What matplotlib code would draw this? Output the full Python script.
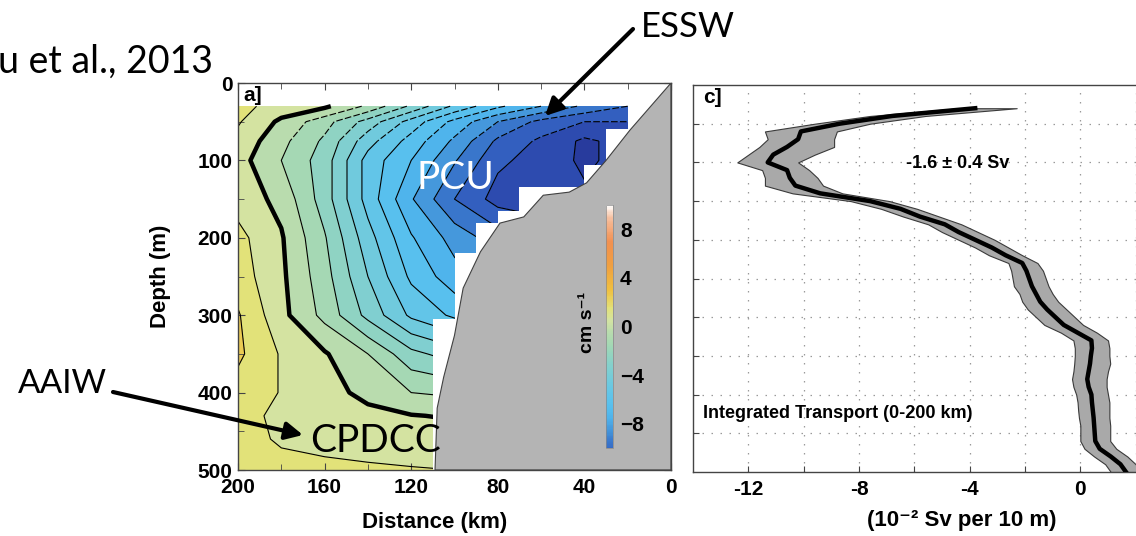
import numpy as np
import matplotlib
matplotlib.use("Agg")
import matplotlib.pyplot as plt
import matplotlib.cm as cm
from matplotlib.colors import LinearSegmentedColormap, Normalize
from matplotlib.patches import FancyArrowPatch
from matplotlib.ticker import MultipleLocator

plt.rcParams['font.family'] = ['Liberation Sans', 'DejaVu Sans']
plt.rcParams['font.weight'] = 'bold'
plt.rcParams['axes.labelweight'] = 'bold'
plt.rcParams['axes.unicode_minus'] = False
plt.rcParams['lines.dashed_pattern'] = [6, 2]

W, H = 1136, 536

# ---- section a]: mean alongshore velocity (cm/s) ----
dist_km = [200, 180, 160, 140, 120, 100, 80, 60, 40, 20, 0]
depth_m = [30, 50, 75, 100, 150, 200, 250, 300, 350, 400, 430, 460, 500]
vel = [
    [1.3, 0.6, 0.2, -1.2, -3.2, -5.2, -6.8, -8.0, -9.2, -10.0, -10.0],
    [1.1, -0.2, -1.6, -3.4, -5.4, -7.3, -9.0, -10.3, -11.0, -11.0, -11.0],
    [0.7, -0.7, -2.2, -4.6, -6.4, -8.2, -10.2, -11.2, -12.2, -11.6, -11.6],
    [0.4, -1.0, -2.5, -5.4, -7.0, -8.9, -10.8, -11.4, -12.2, -11.6, -11.6],
    [0.6, -0.3, -2.5, -5.4, -7.9, -10.0, -11.4, -11.8, -11.8, -11.8, -11.8],
    [1.3, 0.1, -1.9, -4.6, -6.9, -8.4, -9.5, -10.0, -10.0, -10.0, -10.0],
    [1.5, 0.2, -1.6, -4.0, -6.2, -7.6, -8.5, -8.5, -8.5, -8.5, -8.5],
    [2.1, 0.3, -1.3, -3.3, -5.2, -6.2, -6.5, -6.5, -6.5, -6.5, -6.5],
    [2.2, 0.9, 0.1, -1.0, -2.7, -3.5, -3.8, -3.8, -3.8, -3.8, -3.8],
    [1.6, 0.95, 0.4, -0.3, -1.0, -1.2, -1.3, -1.3, -1.3, -1.3, -1.3],
    [1.15, 0.9, 0.6, 0.3, 0.05, -0.1, -0.2, -0.2, -0.2, -0.2, -0.2],
    [1.3, 0.9, 0.8, 0.7, 0.6, 0.5, 0.5, 0.5, 0.5, 0.5, 0.5],
    [1.4, 1.25, 1.15, 1.1, 1.05, 1.0, 1.0, 1.0, 1.0, 1.0, 1.0],
]

# offshore limit of the gridded data (top depth of each step, km)
step_top = [30, 60, 106, 135, 165, 181, 220, 305]
step_km = [20, 30, 40, 70, 80, 90, 100, 110]

# continental slope
bathy_km = [0, 19, 30, 39, 47, 59, 68, 79, 88, 96, 100, 105, 108, 109]
bathy_m = [0, 61, 100, 129, 141, 145, 173, 181, 218, 265, 326, 380, 420, 500]

# ---- panel c]: integrated transport profile (1e-2 Sv per 10 m) ----
tr_depth = list(range(30, 510, 10))
tr_mean = [-3.8, -6.8, -8.7, -10.1, -10.2, -10.6, -11.1, -11.3, -10.6, -10.5,
           -10.3, -9.4, -7.6, -6.5, -5.8, -4.9, -4.4, -3.8, -3.2, -2.7,
           -2.1, -1.95, -1.85, -1.75, -1.6, -1.45, -1.2, -0.9, -0.6, -0.1,
           0.4, 0.42, 0.38, 0.35, 0.3, 0.25, 0.3, 0.4, 0.42, 0.45,
           0.48, 0.5, 0.52, 0.54, 0.7, 1.1, 1.45, 1.65]
tr_lo = [-4.4, -7.6, -9.6, -11.4, -11.3, -11.6, -12.0, -12.4, -11.5, -11.4,
         -11.4, -10.4, -8.3, -7.2, -6.4, -5.5, -5.0, -4.4, -3.8, -3.3,
         -2.6, -2.5, -2.45, -2.4, -2.2, -2.1, -1.9, -1.6, -1.3, -0.7,
         -0.25, -0.2, -0.2, -0.22, -0.25, -0.3, -0.25, -0.15, -0.1, -0.08,
         -0.05, 0.0, 0.0, 0.0, 0.15, 0.5, 0.9, 1.1]
tr_hi = [-2.3, -5.6, -7.6, -8.8, -8.9, -8.9, -9.6, -10.2, -9.8, -9.5,
         -9.3, -8.6, -6.9, -5.9, -5.1, -4.3, -3.7, -3.1, -2.6, -2.1,
         -1.55, -1.35, -1.25, -1.15, -1.0, -0.8, -0.5, -0.2, 0.1, 0.6,
         1.0, 1.05, 1.05, 1.08, 1.0, 0.95, 0.95, 1.0, 1.05, 1.05,
         1.05, 1.08, 1.08, 1.08, 1.3, 1.7, 2.0, 2.2]

VMIN, VMAX = -13, 10
cmap_nodes = [
    (-13, '#26348f'), (-12.5, '#283c9e'), (-11.5, '#2d4cb0'), (-10.5, '#3360c0'),
    (-9.5, '#3a78cc'), (-8.5, '#4598dc'), (-7.5, '#4fb4ec'), (-6.5, '#58c0ee'),
    (-5.5, '#62c5e8'), (-4.5, '#70cadd'), (-3.5, '#80cfd0'), (-2.5, '#90d3c2'),
    (-1.5, '#a4d8b4'), (-0.5, '#b8dcae'), (0.5, '#d4e3a2'), (1.5, '#e2e27a'),
    (3, '#f0c040'), (5, '#f0a040'), (7, '#f29050'), (9, '#f6c0a0'),
    (10, '#ffffff'),
]
cmap = LinearSegmentedColormap.from_list(
    'vel', [((v - VMIN) / (VMAX - VMIN), c) for v, c in cmap_nodes])
norm = Normalize(vmin=VMIN, vmax=VMAX)


def fig_xy(x, y):
    return x / W, 1 - y / H


fig = plt.figure(figsize=(W / 100, H / 100), dpi=100)

# ---------------- left panel ----------------
ax = fig.add_axes([238 / W, 1 - 470 / H, 433 / W, 387 / H])
X, Y = np.meshgrid(dist_km, depth_m)
V = np.array(vel)
ax.contourf(X, Y, V, levels=np.arange(-13, 4), cmap=cmap, norm=norm, zorder=1)

neg_levels = list(range(-12, 0))
ax.contour(X, Y, np.ma.masked_where(Y < 75, V), levels=neg_levels,
           colors='k', linewidths=0.8, linestyles='solid', zorder=2)
ax.contour(X, Y, np.ma.masked_where(Y > 75, V), levels=neg_levels,
           colors='k', linewidths=0.8, linestyles='dashed', zorder=2)
ax.contour(X, Y, V, levels=[1, 2], colors='k', linewidths=0.8, zorder=2)
ax.contour(X, Y, V, levels=[0], colors='k', linewidths=3.2, zorder=2)

# blank out cells beyond the data limit
sx, sy = [0], [step_top[0]]
for i, km in enumerate(step_km):
    top = step_top[i]
    bot = step_top[i + 1] if i + 1 < len(step_top) else 500
    sx += [km, km]
    sy += [top, bot]
sx.append(0)
sy.append(500)
ax.fill(sx, sy, color='white', lw=0, zorder=3)

# slope
ax.fill(bathy_km + [0], bathy_m + [500], facecolor='#b4b4b4',
        edgecolor='#404040', lw=0.8, zorder=4)

ax.set_xlim(200, 0)
ax.set_ylim(500, 0)
ax.xaxis.set_major_locator(MultipleLocator(40))
ax.xaxis.set_minor_locator(MultipleLocator(20))
ax.yaxis.set_major_locator(MultipleLocator(100))
ax.yaxis.set_minor_locator(MultipleLocator(50))
ax.tick_params(which='both', direction='in', top=True, right=True,
               labelsize=15, color='#444444')
ax.tick_params(axis='x', pad=6)
ax.tick_params(axis='y', pad=4)
ax.tick_params(which='major', length=5)
ax.tick_params(which='minor', length=4)
for s in ax.spines.values():
    s.set_color('#444444')
    s.set_linewidth(1.0)
    s.set_zorder(6)
ax.set_ylabel('Depth (m)', fontsize=16)
ax.yaxis.set_label_coords(-0.155, 0.5)
ax.set_xlabel('Distance (km)', fontsize=16)
ax.xaxis.set_label_coords(0.455, -0.108)
ax.text(0.012, 0.992, 'a]', transform=ax.transAxes, fontsize=15,
        va='top', ha='left', zorder=7)

# colour bar sitting on the slope, -10 to 10 cm/s
cax = fig.add_axes([606 / W, 1 - 448 / H, 7 / W, 243 / H])
cb = fig.colorbar(cm.ScalarMappable(norm=norm, cmap=cmap), cax=cax,
                  boundaries=np.linspace(-10, 10, 201))
cb.set_ticks([-8, -4, 0, 4, 8])
cb.set_ticklabels(['\u22128', '\u22124', '0', '4', '8'])
cb.outline.set_linewidth(0.5)
cb.outline.set_edgecolor('#888888')
cax.tick_params(length=0, labelsize=15, pad=5)
for t in cax.get_yticklabels():
    t.set_fontweight('bold')
fig.text(*fig_xy(588, 322), 'cm s\u207b\u00b9', rotation=90, fontsize=14,
         ha='center', va='center')

# ---------------- right panel ----------------
ax2 = fig.add_axes([693 / W, 1 - 472 / H, 498 / W, 387 / H])
ax2.fill_betweenx(tr_depth, tr_lo, tr_hi, facecolor='#a9a9a9',
                  edgecolor='#3a3a3a', lw=0.8, zorder=2)
ax2.plot(tr_mean, tr_depth, color='k', lw=3.2, zorder=3)
ax2.set_xlim(-14, 4)
ax2.set_ylim(500, 0)
ax2.set_xticks([-12, -10, -8, -6, -4, -2, 0, 2])
ax2.set_xticklabels(['-12', '', '-8', '', '-4', '', '0', ''])
ax2.set_yticks(range(50, 500, 50))
ax2.set_yticklabels([])
ax2.grid(True, color='#9a9a9a', lw=0.9, ls=(0, (1.2, 6)))
ax2.tick_params(direction='in', labelsize=15, pad=6, length=4, color='#444444')
for s in ax2.spines.values():
    s.set_color('#444444')
    s.set_linewidth(1.0)
ax2.set_xlabel('(10\u207b\u00b2 Sv per 10 m)', fontsize=16)
ax2.xaxis.set_label_coords(0.54, -0.098)
ax2.text(0.02, 0.992, 'c]', transform=ax2.transAxes, fontsize=15,
         va='top', ha='left')
ax2.text(0.532, 0.798, '-1.6 \u00b1 0.4 Sv', transform=ax2.transAxes,
         fontsize=13, ha='center', va='center')
ax2.text(0.02, 0.152, 'Integrated Transport (0-200 km)',
         transform=ax2.transAxes, fontsize=13, ha='left', va='center')

# ---------------- slide annotations ----------------
note = dict(family=['Lato', 'DejaVu Sans'], weight='normal')
fig.text(*fig_xy(213, 73), 'u et al., 2013', fontsize=27, ha='right',
         va='baseline', **note)
fig.text(*fig_xy(688, 27), 'ESSW', fontsize=25, ha='center', va='center', **note)
fig.text(*fig_xy(62, 384), 'AAIW', fontsize=24, ha='center', va='center', **note)
fig.text(*fig_xy(455, 178), 'PCU', fontsize=28, ha='center', va='center',
         color='white', **note)
fig.text(*fig_xy(376, 441), 'CPDCC', fontsize=28, ha='center', va='center', **note)

for p0, p1 in [((633, 29), (545, 116)), ((113, 392), (303, 435))]:
    fig.add_artist(FancyArrowPatch(fig_xy(*p0), fig_xy(*p1),
                                   transform=fig.transFigure,
                                   arrowstyle='-|>', mutation_scale=26,
                                   lw=3, color='k', shrinkA=0, shrinkB=0))

fig.savefig('out.png', dpi=100)
